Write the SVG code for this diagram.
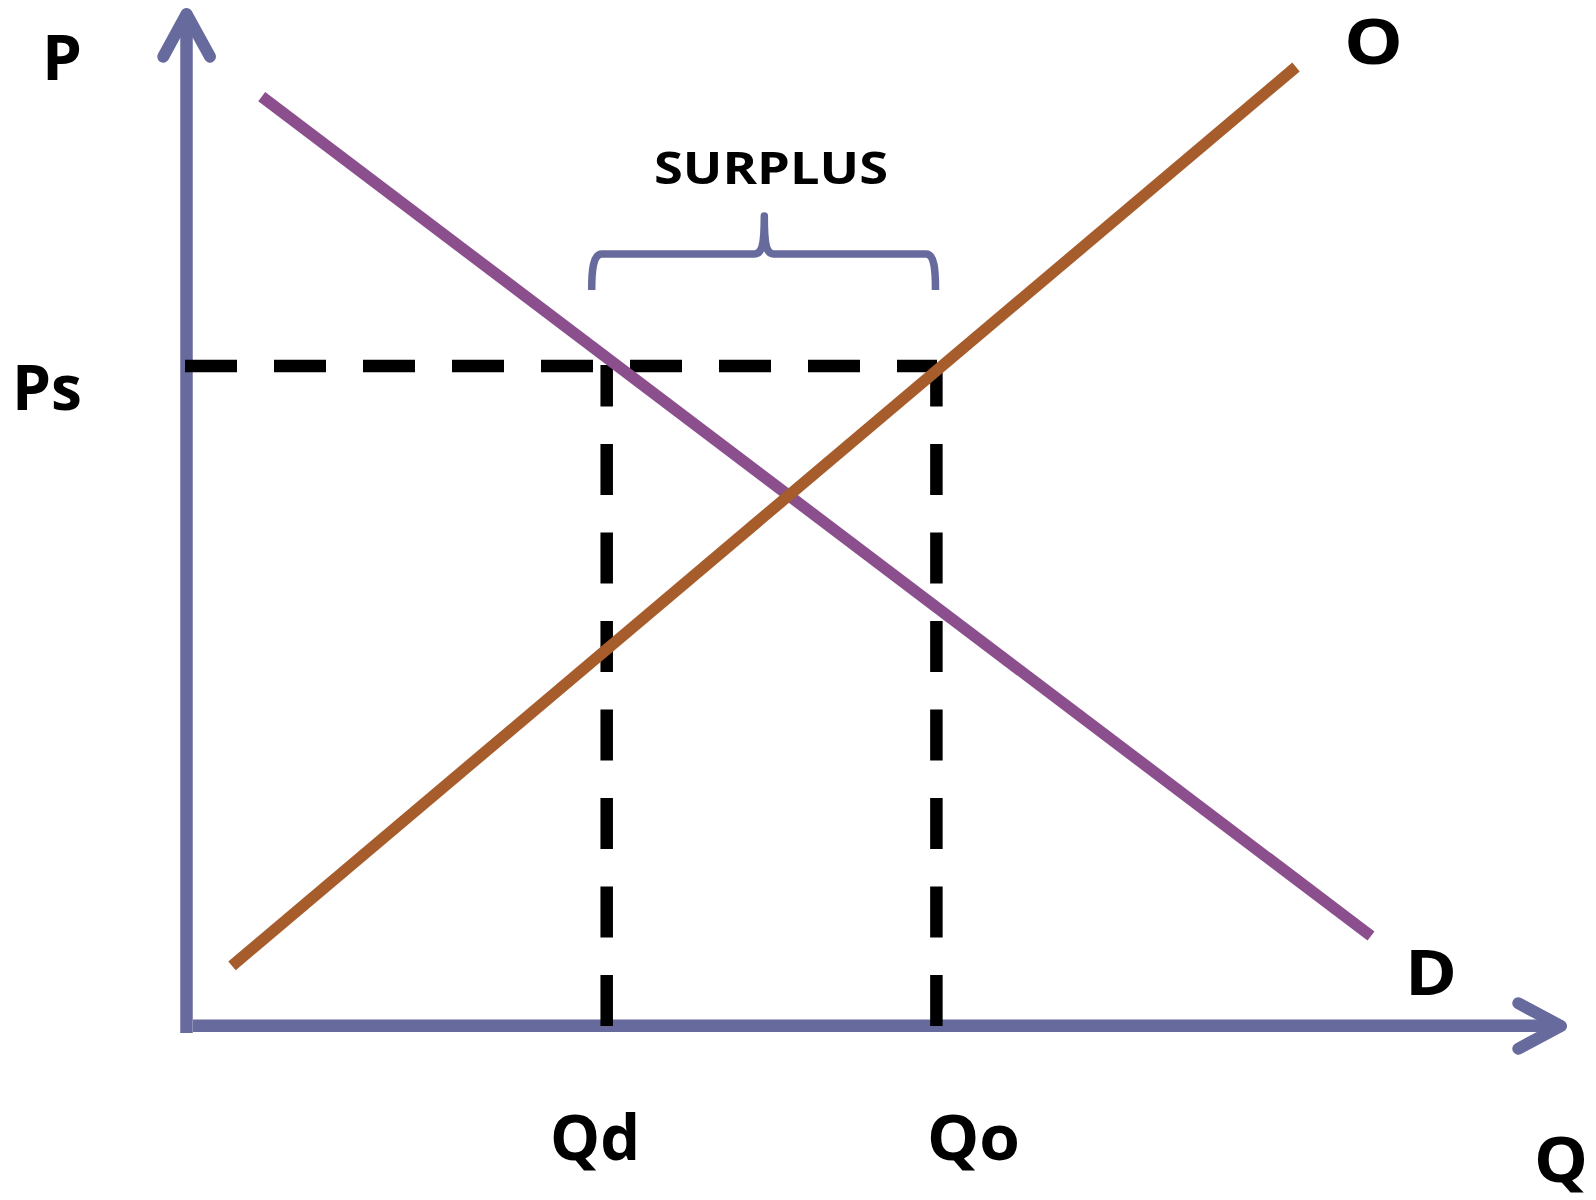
<svg xmlns="http://www.w3.org/2000/svg" width="1596" height="1200" viewBox="0 0 1596 1200">
  <style>
    .axis { stroke: #676A9D; stroke-width: 12.5; fill: none; }
    .head { stroke: #676A9D; stroke-width: 12; fill: none; stroke-linecap: round; stroke-linejoin: round; }
    .dash { stroke: #000; stroke-width: 12.5; fill: none; }
    .lbl { font-family: "Open Sans", "Liberation Sans", sans-serif; font-weight: bold; fill: #000; }
    .big { font-size: 62px; }
  </style>
  <rect width="1596" height="1200" fill="#fff"/>
  <g id="axes">
    <line class="axis" x1="186.5" y1="1033" x2="186.5" y2="16"/>
    <polyline class="head" points="163.3,56.7 186.5,14 210,56.7"/>
    <line class="axis" x1="193" y1="1025.8" x2="1556" y2="1025.8"/>
    <polyline class="head" points="1518.3,1003.3 1561,1026 1518.3,1048.7"/>
  </g>
  <g id="connectors">
    <line id="guide-ps" class="dash" x1="185" y1="366" x2="937" y2="366" stroke-dasharray="52 37"/>
    <line id="guide-qd" class="dash" x1="606.7" y1="1026" x2="606.7" y2="365" stroke-dasharray="51 37.5"/>
    <line id="guide-qo" class="dash" x1="936.4" y1="1026" x2="936.4" y2="365" stroke-dasharray="51 37.5"/>
    <line id="demand" x1="261.7" y1="96.7" x2="1371" y2="936" stroke="#8B4F8E" stroke-width="11.5"/>
    <line id="supply" x1="232" y1="965.8" x2="1296" y2="67" stroke="#A65D2B" stroke-width="11.5"/>
  </g>
  <g id="brace">
    <path d="M 591.7 290 C 591.7 270, 593 254, 602 254 L 754 254 C 762 254, 764.3 246, 764.3 216 C 764.3 246, 766.5 254, 774 254 L 926 254 C 934.5 254, 935.5 270, 935.5 290" fill="none" stroke="#676A9D" stroke-width="7.5" stroke-linejoin="round" stroke-linecap="butt"/>
  </g>
  <g id="labels">
    <text id="lbl-p" class="lbl big" x="42" y="80" textLength="40" lengthAdjust="spacingAndGlyphs">P</text>
    <text id="lbl-ps" class="lbl big" x="12" y="410" textLength="70" lengthAdjust="spacingAndGlyphs">Ps</text>
    <text id="lbl-o" class="lbl big" x="1344" y="64" textLength="59" lengthAdjust="spacingAndGlyphs">O</text>
    <text id="lbl-d" class="lbl big" x="1405" y="995" textLength="52" lengthAdjust="spacingAndGlyphs">D</text>
    <text id="lbl-surplus" class="lbl" x="654" y="184" font-size="45" textLength="234" lengthAdjust="spacingAndGlyphs">SURPLUS</text>
    <text id="lbl-qd" class="lbl big" x="550" y="1160" textLength="90" lengthAdjust="spacingAndGlyphs">Qd</text>
    <text id="lbl-qo" class="lbl big" x="927" y="1160" textLength="93" lengthAdjust="spacingAndGlyphs">Qo</text>
    <text id="lbl-q" class="lbl big" x="1534" y="1182" textLength="54" lengthAdjust="spacingAndGlyphs">Q</text>
  </g>
</svg>
